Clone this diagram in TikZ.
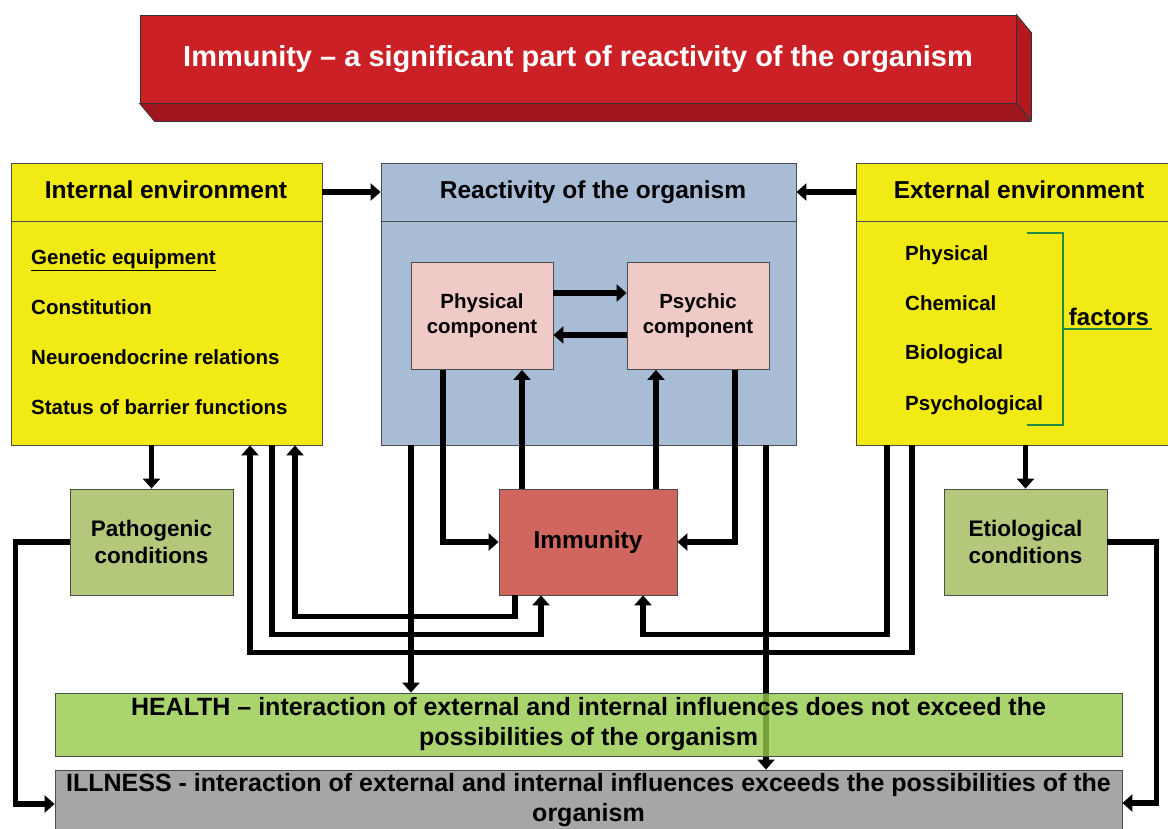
\documentclass[tikz,border=0pt]{standalone}
\usepackage{fontspec}
\setmainfont{Liberation Sans}
\usetikzlibrary{arrows.meta,positioning}

\definecolor{titlered}{RGB}{204,32,39}
\definecolor{titleside}{RGB}{178,26,32}
\definecolor{titlebottom}{RGB}{160,22,28}
\definecolor{envyellow}{RGB}{242,234,20}
\definecolor{reactblue}{RGB}{168,188,214}
\definecolor{comppink}{RGB}{240,202,198}
\definecolor{immured}{RGB}{208,102,94}
\definecolor{condgreen}{RGB}{180,200,124}
\definecolor{healthgreen}{RGB}{149,201,74}
\definecolor{illgray}{RGB}{166,166,166}
\definecolor{bracegreen}{RGB}{30,140,70}

\tikzset{
  box/.style={rectangle, draw=black!70, line width=0.8pt, inner sep=0pt, align=center},
  head/.style={text height=18pt, text depth=5pt, font=\bfseries\fontsize{24.5}{29}\selectfont},
  item/.style={anchor=west, inner sep=0pt, text height=15pt, text depth=4pt,
    font=\bfseries\fontsize{20.5}{24}\selectfont},
  comp/.style={box, fill=comppink, minimum width=142pt, minimum height=107pt,
    font=\bfseries\fontsize{20.5}{25}\selectfont},
  cond/.style={box, fill=condgreen, minimum width=163pt, minimum height=106pt,
    font=\bfseries\fontsize{22.5}{27}\selectfont},
  wide/.style={box, minimum width=1067pt, font=\bfseries\fontsize{25}{30}\selectfont},
  arr/.style={line width=5.5pt, -{Triangle[width=17pt,length=10pt]}},
}

\begin{document}
\begin{tikzpicture}[x=1pt,y=-1pt]
\useasboundingbox (0,0) rectangle (1168,828);

% title block
\node[box, fill=titlered, draw=black!80, minimum width=876pt, minimum height=88pt, text=white,
  font=\bfseries\fontsize{29}{34}\selectfont] (title) at (578,59)
  {Immunity -- a significant part of reactivity of the organism};
\filldraw[fill=titleside, draw=black!80, line width=0.8pt] (title.north east) -- ++(15,18) -- ++(0,88) -- (title.south east) -- cycle;
\filldraw[fill=titlebottom, draw=black!80, line width=0.8pt] (title.south west) -- ++(15,18) -- ++(876,0) -- (title.south east) -- cycle;

% internal environment
\node[box, fill=envyellow, minimum width=311pt, minimum height=282pt] (intl) at (166.5,304) {};
\draw[black!70, line width=0.8pt] ([yshift=-59pt]intl.north west) -- ([yshift=-59pt]intl.north east);
\node[head] (intlhead) at (166,192) {Internal environment};
\node[item] (gen) at (31,259) {\underline{Genetic equipment}};
\node[item] (const) at (31,309) {Constitution};
\node[item] (neuro) at (31,359) {Neuroendocrine relations};
\node[item] (barr) at (31,409) {Status of barrier functions};

% reactivity
\node[box, fill=reactblue, minimum width=415pt, minimum height=282pt] (react) at (588.5,304) {};
\draw[black!70, line width=0.8pt] ([yshift=-59pt]react.north west) -- ([yshift=-59pt]react.north east);
\node[head] (reacthead) at (593,192) {Reactivity of the organism};

% external environment
\node[box, fill=envyellow, minimum width=326pt, minimum height=282pt] (ext) at (1019,304) {};
\draw[black!70, line width=0.8pt] ([yshift=-59pt]ext.north west) -- ([yshift=-59pt]ext.north east);
\node[head] (exthead) at (1019,192) {External environment};
\node[item] (phy) at (905,255) {Physical};
\node[item] (chem) at (905,305) {Chemical};
\node[item] (bio) at (905,354) {Biological};
\node[item] (psy) at (905,405) {Psychological};
\draw[bracegreen, line width=1.5pt] (1027,233) -- (1063,233) -- (1063,425) -- (1027,425);
\draw[bracegreen, line width=1.5pt] (1063,329) -- (1152,329);
\node[font=\bfseries\fontsize{24}{29}\selectfont] (factors) at (1109,317) {factors};

% inner boxes
\node[comp] (phys) at (482,316) {Physical\\component};
\node[comp] (psych) at (698,316) {Psychic\\component};
\node[box, fill=immured, minimum width=178pt, minimum height=106pt,
  font=\bfseries\fontsize{24.5}{29}\selectfont] (immu) at (588,542) {Immunity};
\node[cond] (patho) at (151.5,542) {Pathogenic\\conditions};
\node[cond] (etio) at (1025.5,542) {Etiological\\conditions};
\node[wide, fill=illgray, minimum height=60pt] (ill) at (588.5,800)
  {ILLNESS - interaction of external and internal influences exceeds the possibilities of the\\organism};

% arrows
\draw[arr] (intl.east |- intlhead) -- (react.west |- intlhead);
\draw[arr] (ext.west |- exthead) -- (react.east |- exthead);
\draw[arr] ([yshift=23pt]phys.east) -- ([yshift=23pt]psych.west);
\draw[arr] ([yshift=-19pt]psych.west) -- ([yshift=-19pt]phys.east);
\draw[arr] ([xshift=-39pt]phys.south) |- (immu.west);
\draw[arr] ([xshift=37pt]psych.south) |- (immu.east);
\draw[arr] ([xshift=-66pt]immu.north) -- ([xshift=-66pt]immu.north |- phys.south);
\draw[arr] ([xshift=68pt]immu.north) -- ([xshift=68pt]immu.north |- psych.south);
\draw[arr] ([xshift=-73pt]immu.south) -- ++(0,21) -| ([xshift=128.5pt]intl.south);
\draw[arr] ([xshift=105.5pt]intl.south) -- ++(0,189) -| ([xshift=-47pt]immu.south);
\draw[arr] ([xshift=-132pt]ext.south) -- ++(0,189) -| ([xshift=55pt]immu.south);
\draw[arr] ([xshift=-107pt]ext.south) -- ++(0,207) -| ([xshift=83.5pt]intl.south);
\draw[arr] (intl.south -| patho.north) -- (patho.north);
\draw[arr] (ext.south -| etio.north) -- (etio.north);
\draw[arr] (patho.west) -- ++(-54,0) |- ([yshift=-4pt]ill.west);
\draw[arr] (etio.east) -- ++(49,0) |- ([yshift=-3pt]ill.east);
\draw[arr] ([xshift=177.5pt]react.south) -- ([xshift=177.5pt]react.south |- ill.north);

% health on top of the crossing line
\node[wide, fill=healthgreen, fill opacity=0.8, text opacity=1, minimum height=63pt] (health) at (588.5,724.5)
  {HEALTH -- interaction of external and internal influences does not exceed the\\possibilities of the organism};
\draw[arr] ([xshift=-177.5pt]react.south) -- ([xshift=-177.5pt]react.south |- health.north);
\end{tikzpicture}
\end{document}
